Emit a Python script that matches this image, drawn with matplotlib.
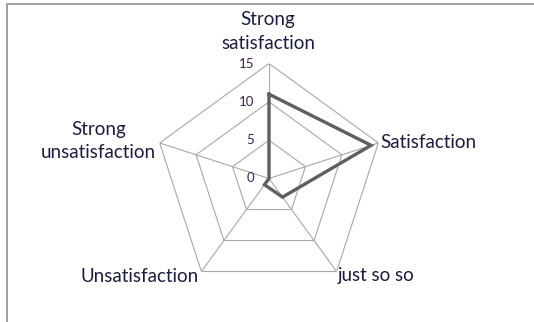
import numpy as np
import matplotlib
matplotlib.use("Agg")
import matplotlib.pyplot as plt
from matplotlib.lines import Line2D

categories = ["Strong\nsatisfaction", "Satisfaction", "just so so",
              "Unsatisfaction", "Strong\nunsatisfaction"]
values = [11, 14, 3, 1, 0]
rings = [5, 10, 15]
tick_labels = ["0", "5", "10", "15"]
r_max = 15

W, H = 534, 322
TEXT = "#1c1c40"
GRID = "#a8a8a8"
LINE = "#5f5f5f"
FONT = "Lato"

fig = plt.figure(figsize=(W / 100, H / 100), dpi=100)


def px(x, y):
    return x / W, 1 - y / H


# outer chart frame (cropped at right and bottom in the original)
fig.add_artist(Line2D([6.5 / W, 6.5 / W, 1.0], [0.0, 1 - 3.5 / H, 1 - 3.5 / H],
                      transform=fig.transFigure, color="#999999", lw=1.3))

# polar area: centre ~(269, 179) px, radius ~115 px
cx, cy, rad = 269, 178.5, 115
ax = fig.add_axes([(cx - rad) / W, 1 - (cy + rad) / H, 2 * rad / W, 2 * rad / H],
                  projection="polar")
ax.set_theta_offset(np.pi / 2)
ax.set_theta_direction(-1)
ax.set_ylim(0, r_max)
ax.axis("off")

n = len(categories)
theta = np.linspace(0, 2 * np.pi, n, endpoint=False)
closed = np.append(theta, theta[0])

for r in rings:
    ax.plot(closed, [r] * (n + 1), color=GRID, lw=0.8, zorder=1)
for t in theta:
    ax.plot([t, t], [0, r_max], color=GRID, lw=0.8, zorder=1)

ax.plot(closed, values + values[:1], color=LINE, lw=2.4, zorder=3,
        solid_joinstyle="miter")

# value axis labels along the top spoke
for lab, r in zip(tick_labels, [0] + rings):
    y = cy - r / r_max * rad
    fig.text(*px(cx - 15, y), lab, ha="right", va="center",
             fontsize=9.5, color="#3a1f55", family=FONT)

# category labels
lab_kw = dict(fontsize=13.5, color=TEXT, family=FONT, linespacing=1.45)
fig.text(*px(268, 31.5), categories[0], ha="center", va="center", **lab_kw)
fig.text(*px(380, 142), categories[1], ha="left", va="center", **lab_kw)
fig.text(*px(338, 276), categories[2], ha="left", va="center", **lab_kw)
fig.text(*px(199, 276), categories[3], ha="right", va="center", **lab_kw)
fig.text(*px(98.5, 141), categories[4], ha="center", va="center", **lab_kw)

fig.savefig("out.png", dpi=100)
